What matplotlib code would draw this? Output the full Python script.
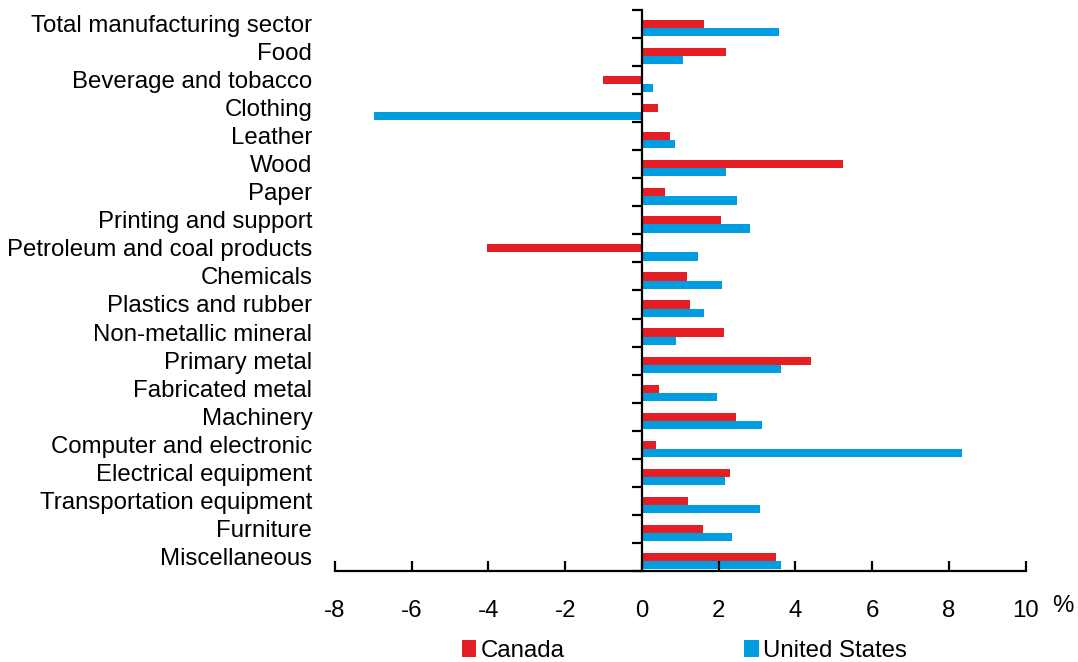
import matplotlib
matplotlib.use("Agg")
import matplotlib.pyplot as plt
from matplotlib.patches import Patch
import numpy as np

plt.rcParams['font.family'] = ['Liberation Sans', 'DejaVu Sans']

industries = [
    "Total manufacturing sector", "Food", "Beverage and tobacco", "Clothing",
    "Leather", "Wood", "Paper", "Printing and support",
    "Petroleum and coal products", "Chemicals", "Plastics and rubber",
    "Non-metallic mineral", "Primary metal", "Fabricated metal", "Machinery",
    "Computer and electronic", "Electrical equipment",
    "Transportation equipment", "Furniture", "Miscellaneous",
]
canada = [1.63, 2.18, -1.02, 0.42, 0.74, 5.24, 0.60, 2.05, -4.04, 1.17,
          1.25, 2.14, 4.42, 0.44, 2.45, 0.37, 2.29, 1.20, 1.58, 3.49]
united_states = [3.57, 1.08, 0.29, -6.98, 0.87, 2.19, 2.47, 2.83, 1.46, 2.09,
                 1.63, 0.89, 3.62, 1.95, 3.13, 8.34, 2.16, 3.08, 2.35, 3.62]
x_ticks = [-8, -6, -4, -2, 0, 2, 4, 6, 8, 10]

RED = "#E31E24"
BLUE = "#009EE0"
FS = 17.3

fig = plt.figure(figsize=(10.78, 6.62), dpi=100)
ax = fig.add_axes([0.3108, 0.1375, 0.6405, 0.8474])

pos = np.arange(len(industries))
h = 0.29
ax.barh(pos, canada, height=h, color=RED, label="Canada")
ax.barh(pos + h, united_states, height=h, color=BLUE, label="United States")

ax.set_xlim(-8, 10)
ax.set_ylim(len(industries) - 0.5, -0.5)

# spines: y axis sits at zero, x axis at bottom
ax.spines['top'].set_visible(False)
ax.spines['right'].set_visible(False)
ax.spines['left'].set_position(('data', 0))
for s in ('left', 'bottom'):
    ax.spines[s].set_linewidth(1.6)
    ax.spines[s].set_color('black')

ax.set_xticks(x_ticks)
ax.set_xticklabels([str(v) for v in x_ticks], fontsize=FS)
ax.tick_params(axis='x', direction='in', length=7, width=1.6, pad=21)

ax.set_yticks(np.arange(len(industries) + 1) - 0.5)
ax.set_yticklabels([])
ax.tick_params(axis='y', direction='out', length=7, width=1.6)

# category names, right-aligned at the left edge of the plot area
for i, name in enumerate(industries):
    ax.text(-0.033, i + 0.07, name, transform=ax.get_yaxis_transform(),
            ha='right', va='center', fontsize=FS)

fig.text(0.986, 0.085, "%", fontsize=FS, ha='center', va='center')

handles = [Patch(facecolor=RED, label="Canada"),
           Patch(facecolor=BLUE, label="United States")]
fig.legend(handles=handles, loc='center', bbox_to_anchor=(0.635, 0.017),
           ncol=2, frameon=False, fontsize=FS, handlelength=0.6,
           handleheight=0.72, handletextpad=0.2, columnspacing=7.45,
           borderpad=0, borderaxespad=0)

fig.savefig("out.png", dpi=100)
